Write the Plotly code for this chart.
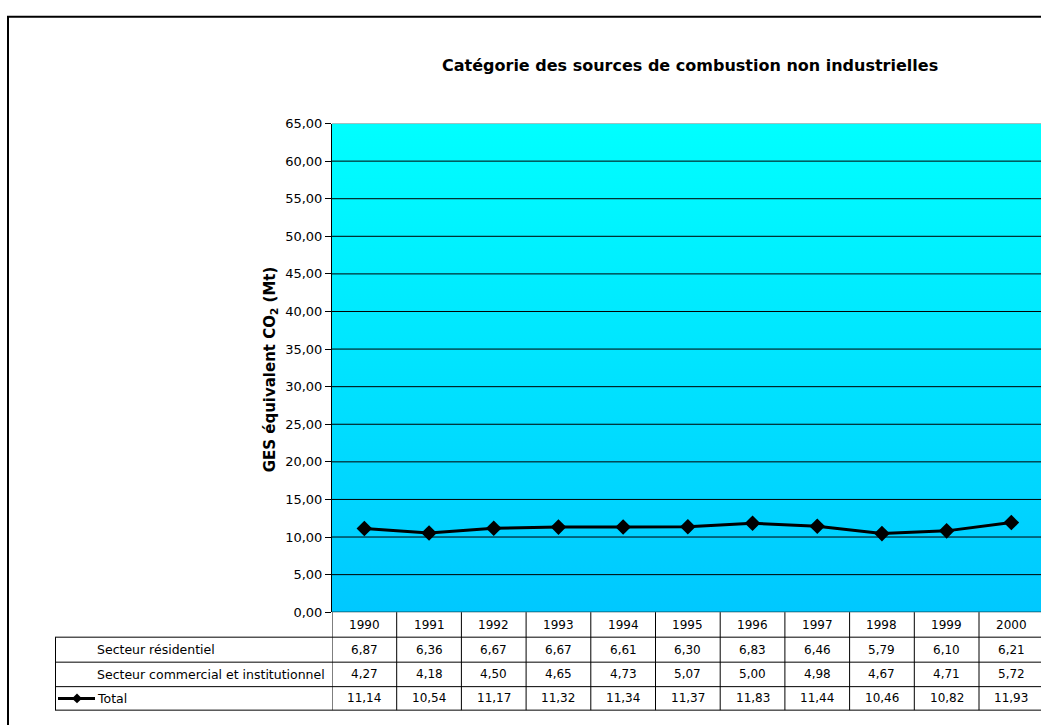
import plotly.graph_objects as go

# ---- data ----
years = ["1990", "1991", "1992", "1993", "1994", "1995", "1996", "1997", "1998", "1999", "2000"]
residentiel = [6.87, 6.36, 6.67, 6.67, 6.61, 6.30, 6.83, 6.46, 5.79, 6.10, 6.21]
commercial = [4.27, 4.18, 4.50, 4.65, 4.73, 5.07, 5.00, 4.98, 4.67, 4.71, 5.72]
total = [11.14, 10.54, 11.17, 11.32, 11.34, 11.37, 11.83, 11.44, 10.46, 10.82, 11.93]
row_labels = ["Secteur résidentiel", "Secteur commercial et institutionnel", "Total"]
y_ticks = [0, 5, 10, 15, 20, 25, 30, 35, 40, 45, 50, 55, 60, 65]
title = "Catégorie des sources de combustion non industrielles"
y_title = "GES équivalent CO<sub>2</sub> (Mt)"

W, H = 1041, 725
def px(x):
    return x / W
def py(y):
    return 1 - y / H

FONT = "DejaVu Sans, Verdana, sans-serif"
PLOT_L, PLOT_T, PLOT_B = 332, 119, 618
COLW = 64.7
xi = list(range(len(years)))
xmin = -0.5
xmax = -0.5 + (W - PLOT_L) / COLW
ymax = max(y_ticks)

def fmt(v):
    return f"{v:.2f}".replace(".", ",")

fig = go.Figure()

# gradient background of the plot area
fig.add_trace(go.Scatter(
    x=[xmin, 10.5, 10.5, xmin, xmin], y=[0, 0, ymax, ymax, 0],
    mode="lines", line=dict(width=0), fill="toself",
    fillgradient=dict(type="vertical", colorscale=[[0, "#00C8FF"], [1, "#00FFFF"]]),
    hoverinfo="skip", showlegend=False,
))

# Total line
fig.add_trace(go.Scatter(
    x=xi, y=total, mode="lines+markers", name="Total",
    line=dict(color="black", width=3),
    marker=dict(symbol="diamond", size=12, color="black"),
    showlegend=False,
))

shapes = []
# gridlines drawn above the gradient
for v in y_ticks:
    shapes.append(dict(type="line", xref="x domain", x0=0, x1=1.02, yref="y", y0=v, y1=v,
                       line=dict(color="#808080" if v == ymax else "black", width=1), layer="above"))

# data table grid
row_edges = [618, 643.5, 669, 694, 718]
for r in range(1, 5):
    shapes.append(dict(type="line", xref="paper", x0=px(55), x1=1.02, yref="paper",
                       y0=py(row_edges[r]), y1=py(row_edges[r]), line=dict(color="black", width=1)))
shapes.append(dict(type="line", xref="paper", x0=px(55.5), x1=px(55.5), yref="paper",
                   y0=py(row_edges[1]), y1=py(row_edges[4]), line=dict(color="black", width=1)))
for k in range(len(years) + 1):
    xv = k - 0.5
    shapes.append(dict(type="line", xref="x", x0=xv, x1=xv, yref="paper",
                       y0=py(row_edges[0]), y1=py(row_edges[4]), line=dict(color="black", width=1)))

# legend key for Total
ky = 706
shapes.append(dict(type="line", xref="paper", yref="paper", x0=px(58), x1=px(95), y0=py(ky), y1=py(ky),
                   line=dict(color="black", width=3)))
cx, d = 77, 5
shapes.append(dict(type="path", xref="paper", yref="paper",
                   path=f"M {px(cx-d)},{py(ky)} L {px(cx)},{py(ky-d)} L {px(cx+d)},{py(ky)} L {px(cx)},{py(ky+d)} Z",
                   fillcolor="black", line=dict(color="black", width=0)))

# outer chart border
shapes.append(dict(type="line", xref="paper", yref="paper", x0=px(8), x1=px(8), y0=py(10), y1=-0.1,
                   line=dict(color="black", width=2)))
shapes.append(dict(type="line", xref="paper", yref="paper", x0=px(7), x1=1.1, y0=py(10), y1=py(10),
                   line=dict(color="black", width=2)))

annotations = []
tfont = dict(family=FONT, size=12, color="black")
for i, yr in enumerate(years):
    annotations.append(dict(x=i, xref="x", y=py((row_edges[0] + row_edges[1]) / 2), yref="paper",
                            text=yr, showarrow=False, font=tfont, xanchor="center", yanchor="middle"))
    for r, series in enumerate([residentiel, commercial, total]):
        annotations.append(dict(x=i, xref="x", y=py((row_edges[r + 1] + row_edges[r + 2]) / 2), yref="paper",
                                text=fmt(series[i]), showarrow=False, font=tfont,
                                xanchor="center", yanchor="middle"))
for r, lab in enumerate(row_labels):
    annotations.append(dict(x=px(95), xref="paper", y=py((row_edges[r + 1] + row_edges[r + 2]) / 2), yref="paper",
                            text=lab, showarrow=False, font=dict(family=FONT, size=12.5, color="black"),
                            xanchor="left", yanchor="middle"))

annotations.append(dict(x=px(690), y=py(60), xref="paper", yref="paper", text=f"<b>{title}</b>",
                        showarrow=False, font=dict(family=FONT, size=16, color="black"),
                        xanchor="center", yanchor="middle"))
annotations.append(dict(x=px(270), y=py(370), xref="paper", yref="paper", text=f"<b>{y_title}</b>",
                        showarrow=False, textangle=-90, font=dict(family=FONT, size=15, color="black"),
                        xanchor="center", yanchor="middle"))

fig.update_layout(
    width=W, height=H,
    margin=dict(l=0, r=0, t=0, b=0),
    paper_bgcolor="white", plot_bgcolor="white",
    separators=", ",
    showlegend=False,
    xaxis=dict(domain=[px(PLOT_L), 1], range=[xmin, xmax], showgrid=False, zeroline=False,
               showticklabels=False, ticks="", showline=False, fixedrange=True),
    yaxis=dict(domain=[py(PLOT_B), py(PLOT_T)], range=[0, ymax], tickvals=y_ticks,
               tickformat=".2f", showgrid=False, zeroline=False, showline=True, linecolor="black",
               linewidth=1, ticks="outside", ticklen=6, tickcolor="black",
               tickfont=dict(family=FONT, size=13, color="black"), fixedrange=True),
    shapes=shapes,
    annotations=annotations,
)

fig.write_html("out.html", config={"displayModeBar": False},
               post_script="document.documentElement.style.margin='0';document.body.style.margin='0';"
                           "document.body.style.overflow='hidden';document.documentElement.style.overflow='hidden';")
